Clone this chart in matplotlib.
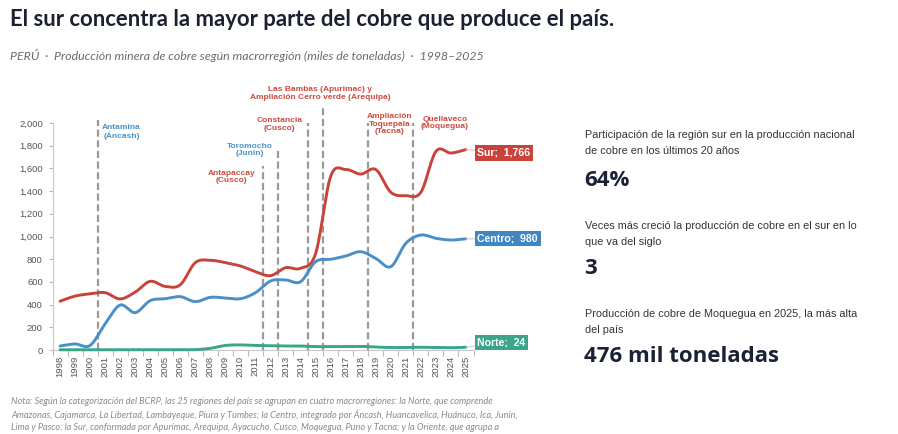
import numpy as np
import matplotlib
matplotlib.use("Agg")
import matplotlib.pyplot as plt

# datos (miles de toneladas)
years = list(range(1998, 2026))
sur = [430, 475, 495, 505, 450, 510, 605, 560, 575, 770, 790, 770, 740, 690,
       655, 725, 720, 850, 1530, 1590, 1550, 1590, 1390, 1360, 1390, 1750, 1735, 1766]
centro = [35, 53, 40, 230, 396, 329, 435, 452, 470, 426, 464, 458, 452, 505,
          608, 617, 602, 778, 799, 828, 866, 807, 734, 940, 1013, 984, 969, 980]
norte = [2, 2, 2, 2, 2, 2, 2, 2, 2, 3, 15, 40, 45, 40,
         38, 35, 35, 30, 30, 30, 32, 25, 22, 22, 24, 22, 20, 24]

series_names = ["Sur", "Centro", "Norte"]
series_colors = ["#c8433a", "#4a8fc8", "#3aa58a"]
label_colors = ["#c8433a", "#3f86c4", "#3aa58a"]
label_shift = [-30, 0, 45]  # desplazamiento vertical de la etiqueta

# hitos: texto, ano de la linea, tope de la linea, pos. texto (x, y), color
event_texts = ["Antamina\n(Áncash)", "Antapaccay\n(Cusco)", "Toromocho\n(Junin)",
               "Constancia\n(Cusco)",
               "Las Bambas (Apurimac) y\nAmpliación Cerro verde (Arequipa)",
               "Ampliación\nToquepala\n(Tacna)", "Quellaveco\n(Moquegua)"]
event_years = [2000.5, 2011.5, 2012.5, 2014.5, 2015.5, 2018.5, 2021.5]
event_tops = [2030, 1620, 1780, 2000, 2140, 2000, 2000]
event_tx = [2002.1, 2009.4, 2010.6, 2012.6, 2015.3, 2019.9, 2023.6]
event_ty = [1920, 1525, 1762, 1990, 2260, 1990, 2000]
event_colors = ["#4a93c9", "#cf4a3e", "#4a93c9", "#cf4a3e", "#cf4a3e", "#cf4a3e", "#cf4a3e"]

stat_texts = ["Participación de la región sur en la producción nacional\nde cobre en los últimos 20 años",
              "Veces más creció la producción de cobre en el sur en lo\nque va del siglo",
              "Producción de cobre de Moquegua en 2025, la más alta\ndel país"]
stat_values = ["64%", "3", "476 mil toneladas"]

W, H = 898, 434


def smooth(x, y, n=24):
    # suavizado tipo Catmull-Rom (como las lineas suavizadas de Excel)
    x = np.asarray(x, float)
    y = np.asarray(y, float)
    px = np.concatenate(([2 * x[0] - x[1]], x, [2 * x[-1] - x[-2]]))
    py = np.concatenate(([2 * y[0] - y[1]], y, [2 * y[-1] - y[-2]]))
    xs, ys = [], []
    t = np.linspace(0, 1, n, endpoint=False)
    for i in range(1, len(px) - 2):
        p0, p1, p2, p3 = py[i - 1], py[i], py[i + 1], py[i + 2]
        ys.append(0.5 * (2 * p1 + (-p0 + p2) * t + (2 * p0 - 5 * p1 + 4 * p2 - p3) * t ** 2
                         + (-p0 + 3 * p1 - 3 * p2 + p3) * t ** 3))
        xs.append(px[i] + (px[i + 1] - px[i]) * t)
    xs.append([x[-1]])
    ys.append([y[-1]])
    return np.concatenate(xs), np.concatenate(ys)


fig = plt.figure(figsize=(W / 100, H / 100), dpi=100)
ax = fig.add_axes([52.5 / W, 1 - 350 / H, 421 / W, 227 / H])

for vals, name, col in zip([sur, centro, norte], series_names, series_colors):
    sx, sy = smooth(years, vals)
    ax.plot(sx, sy, color=col, lw=2.1, solid_capstyle="round", zorder=3, clip_on=False)

for yr, top in zip(event_years, event_tops):
    ax.plot([yr, yr], [0, top], color="#9a9a9a", lw=1.6, ls=(0, (3.2, 1.6)),
            zorder=2, clip_on=False)

for txt, tx, ty, col in zip(event_texts, event_tx, event_ty, event_colors):
    ax.text(tx, ty, txt, ha="center", va="center", fontsize=6.0, color=col,
            fontweight="bold", family="Liberation Sans", linespacing=1.15, clip_on=False)

# etiquetas al final de cada serie
for vals, name, col, dy in zip([sur, centro, norte], series_names, label_colors, label_shift):
    val = vals[-1]
    ax.annotate(f"{name};  {val:,}", xy=(years[-1], val), xytext=(2025.75, val + dy),
                va="center", ha="left", fontsize=7.6, color="white", fontweight="bold",
                family="Liberation Sans",
                bbox=dict(boxstyle="square,pad=0.25", fc=col, ec="none"),
                arrowprops=dict(arrowstyle="-", color="#cccccc", lw=0.8,
                                shrinkA=0, shrinkB=0),
                annotation_clip=False)

ax.set_xlim(1997.5, 2025.5)
ax.set_ylim(0, 2000)
ax.set_yticks(range(0, 2001, 200))
ax.set_yticklabels([f"{v:,}" for v in range(0, 2001, 200)])
ax.set_xticks(years)
ax.set_xticklabels([str(y) for y in years], rotation=90)
ax.set_xticks(np.arange(1997.5, 2026, 1), minor=True)
ax.tick_params(axis="x", which="major", length=0, pad=4, labelsize=6.8, labelcolor="#555555")
ax.tick_params(axis="x", which="minor", length=4, color="#bbbbbb", width=0.8)
ax.tick_params(axis="y", length=3, color="#bbbbbb", width=0.8, labelsize=6.8,
               labelcolor="#555555", pad=4)
for lab in ax.get_xticklabels() + ax.get_yticklabels():
    lab.set_family("Liberation Sans")
for s in ["top", "right"]:
    ax.spines[s].set_visible(False)
ax.spines["left"].set_color("#c8c8c8")
ax.spines["bottom"].set_color("#c8c8c8")
ax.spines["left"].set_linewidth(0.8)
ax.spines["bottom"].set_linewidth(0.8)

# titulo y subtitulo
fig.text(10 / W, 1 - 19 / H, "El sur concentra la mayor parte del cobre que produce el país.",
         fontsize=15.9, fontweight="bold", color="#1b2131", family="Lato", va="center")
fig.text(10 / W, 1 - 55 / H,
         "PERÚ  ·  Producción minera de cobre según macrorregión (miles de toneladas)  ·  1998–2025",
         fontsize=8.9, style="italic", color="#6b6b6b", family="Lato", va="center")

# panel derecho
stat_y = [143, 234, 322]
value_y = [180, 268, 356]
for txt, val, ty, vy in zip(stat_texts, stat_values, stat_y, value_y):
    fig.text(585 / W, 1 - ty / H, txt, fontsize=7.8, color="#333333",
             family="Liberation Sans", va="center", linespacing=1.7)
    fig.text(584 / W, 1 - vy / H, val, fontsize=16, fontweight="bold", color="#1b2236",
             family="Open Sans", va="center")

note = ("Nota: Según la categorización del BCRP, las 25 regiones del país se agrupan en cuatro macrorregiones: la Norte, que comprende\n"
        "Amazonas, Cajamarca, La Libertad, Lambayeque, Piura y Tumbes; la Centro, integrado por Áncash, Huancavelica, Huánuco, Ica, Junín,\n"
        "Lima y Pasco; la Sur, conformada por Apurímac, Arequipa, Ayacucho, Cusco, Moquegua, Puno y Tacna; y la Oriente, que agrupa a")
fig.text(11 / W, 1 - 397 / H, note, fontsize=6.6, style="italic", color="#8a8a8a",
         family="Lato", va="top", linespacing=1.35)

fig.savefig("out.png", dpi=100, facecolor="white")
